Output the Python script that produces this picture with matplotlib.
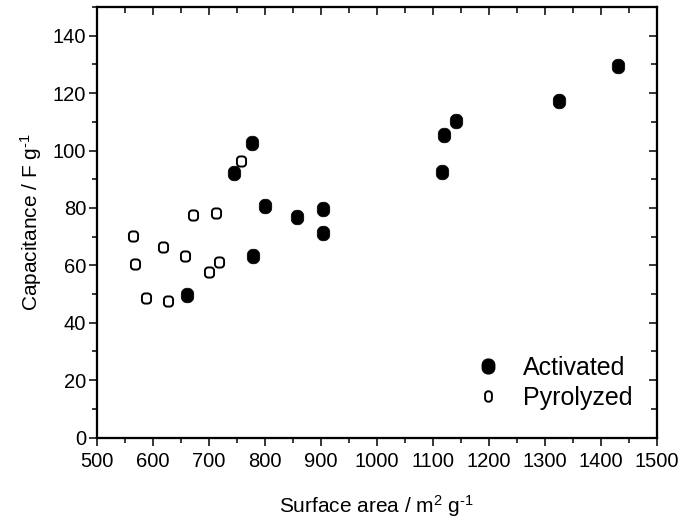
import numpy as np
import matplotlib
matplotlib.use("Agg")
import matplotlib.pyplot as plt
from matplotlib.path import Path
from matplotlib.lines import Line2D
from matplotlib.ticker import MultipleLocator

plt.rcParams["font.family"] = ["Liberation Sans", "DejaVu Sans"]
plt.rcParams["mathtext.fontset"] = "custom"
plt.rcParams["mathtext.rm"] = "Liberation Sans"
plt.rcParams["mathtext.it"] = "Liberation Sans"

# -----------------------------------------
# data
# -----------------------------------------
act_area = [662, 745, 778, 779, 800, 857, 904, 904, 1116, 1120, 1142, 1326, 1430]
act_cap = [49.6, 92.2, 102.6, 63.4, 80.6, 77.0, 79.6, 71.2, 92.4, 105.4, 110.4, 117.4, 129.5]

pyr_area = [565, 568, 588, 619, 627, 657, 672, 701, 713, 718, 757]
pyr_cap = [70.3, 60.5, 48.5, 66.4, 47.6, 63.4, 77.5, 57.6, 78.3, 61.3, 96.2]


def rounded_rect(w, h, r):
    # closed path of a rectangle with rounded corners, centred on 0
    k = 0.5523 * r
    x0, x1, y0, y1 = -w / 2, w / 2, -h / 2, h / 2
    verts = [
        (x0 + r, y0), (x1 - r, y0),
        (x1 - r + k, y0), (x1, y0 + r - k), (x1, y0 + r),
        (x1, y1 - r),
        (x1, y1 - r + k), (x1 - r + k, y1), (x1 - r, y1),
        (x0 + r, y1),
        (x0 + r - k, y1), (x0, y1 - r + k), (x0, y1 - r),
        (x0, y0 + r),
        (x0, y0 + r - k), (x0 + r - k, y0), (x0 + r, y0),
        (x0 + r, y0),
    ]
    codes = [Path.MOVETO, Path.LINETO,
             Path.CURVE4, Path.CURVE4, Path.CURVE4,
             Path.LINETO,
             Path.CURVE4, Path.CURVE4, Path.CURVE4,
             Path.LINETO,
             Path.CURVE4, Path.CURVE4, Path.CURVE4,
             Path.LINETO,
             Path.CURVE4, Path.CURVE4, Path.CURVE4,
             Path.CLOSEPOLY]
    return Path(verts, codes)


filled_mark = rounded_rect(12, 14, 5.5)
open_mark = rounded_rect(9, 10, 3.2)
open_leg_mark = rounded_rect(6.5, 10, 3.0)

# -----------------------------------------
# plot
# -----------------------------------------
fig = plt.figure(figsize=(6.84, 5.24), dpi=100)
ax = fig.add_axes([0.1414, 0.165, 0.8191, 0.8216])

ax.plot(act_area, act_cap, ls="none", marker=filled_mark, ms=10.5,
        mfc="black", mec="black", mew=0.5)
ax.plot(pyr_area, pyr_cap, ls="none", marker=open_mark, ms=7.3,
        mfc="white", mec="black", mew=1.4)

ax.set_xlim(500, 1500)
ax.set_ylim(0, 150)
ax.xaxis.set_major_locator(MultipleLocator(100))
ax.xaxis.set_minor_locator(MultipleLocator(50))
ax.yaxis.set_major_locator(MultipleLocator(20))
ax.yaxis.set_minor_locator(MultipleLocator(10))

ax.tick_params(which="both", direction="out", width=1.1, labelsize=14.5,
               top=False, right=False)
ax.tick_params(which="major", length=5.5)
ax.tick_params(axis="x", which="major", pad=5)
ax.tick_params(axis="y", which="major", pad=2)
ax.tick_params(which="minor", length=3.5)

# inward ticks on the top and right sides
ax2 = ax.twiny()
ax2.set_xlim(ax.get_xlim())
ax2.xaxis.set_major_locator(MultipleLocator(100))
ax2.xaxis.set_minor_locator(MultipleLocator(50))
ax2.tick_params(which="both", direction="in", width=1.1, labeltop=False)
ax2.tick_params(which="major", length=6)
ax2.tick_params(which="minor", length=4)
ax3 = ax.twinx()
ax3.set_ylim(ax.get_ylim())
ax3.yaxis.set_major_locator(MultipleLocator(20))
ax3.yaxis.set_minor_locator(MultipleLocator(10))
ax3.tick_params(which="both", direction="in", width=1.1, labelright=False)
ax3.tick_params(which="major", length=6)
ax3.tick_params(which="minor", length=4)

for a in (ax, ax2, ax3):
    for s in a.spines.values():
        s.set_linewidth(1.5)

ax.set_xlabel(r"Surface area / m$^{2}$ g$^{\text{-}1}$", fontsize=15, labelpad=16)
ax.set_ylabel(r"Capacitance / F g$^{\text{-}1}$", fontsize=15, labelpad=6)

handles = [
    Line2D([], [], ls="none", marker=filled_mark, ms=11,
           mfc="black", mec="black", mew=0.5),
    Line2D([], [], ls="none", marker=open_leg_mark, ms=7.5,
           mfc="white", mec="black", mew=1.4),
]
ax3.legend(handles, ["Activated", "Pyrolyzed"], loc="lower right",
           bbox_to_anchor=(0.957, 0.065), frameon=False,
           fontsize=18, handletextpad=0.9, labelspacing=0.22,
           handlelength=1.0, borderaxespad=0, borderpad=0)

fig.savefig("out.png", dpi=100)
